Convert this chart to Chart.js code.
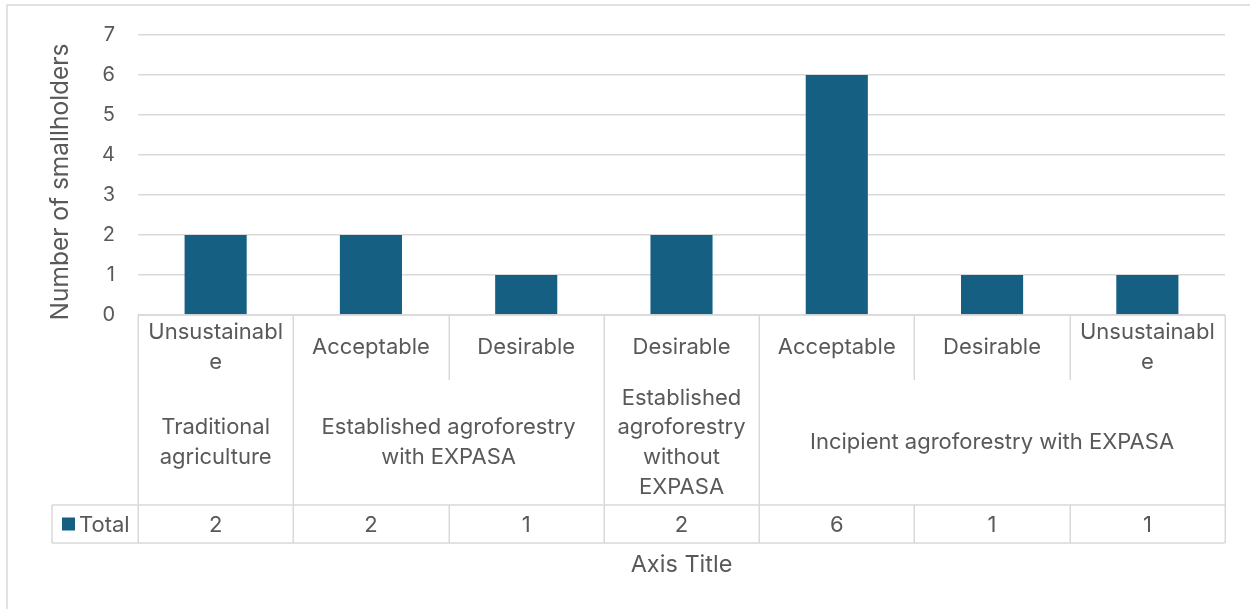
<!DOCTYPE html>
<html>
<head>
<meta charset="utf-8">
<script src="https://cdn.jsdelivr.net/npm/chart.js@4/dist/chart.umd.min.js"></script>
<style>
  html, body { margin: 0; padding: 0; background: #fff; }
  #wrap { width: 1250px; height: 609px; position: relative; }
</style>
</head>
<body>
<div id="wrap"><canvas id="c" width="1250" height="609"></canvas></div>
<script>
// Sustainability rating per column (lines as they wrap inside each cell)
const ratingLines = [
  ["Unsustainabl", "e"],
  ["Acceptable"],
  ["Desirable"],
  ["Desirable"],
  ["Acceptable"],
  ["Desirable"],
  ["Unsustainabl", "e"]
];
// Land-use system groups and how many rating columns each covers
const groupLines = [
  ["Traditional", "agriculture"],
  ["Established agroforestry", "with EXPASA"],
  ["Established", "agroforestry", "without", "EXPASA"],
  ["Incipient agroforestry with EXPASA"]
];
const groupSpans = [1, 2, 1, 3];
const seriesName = "Total";
const totals = [2, 2, 1, 2, 6, 1, 1];
const yMin = 0, yMax = 7, yStep = 1;
const yTitle = "Number of smallholders";
const xTitle = "Axis Title";

const FONT = "Inter";
const TEXT = "#595959";
const LINE = "#d9d9d9";
const BAR = "#156082";

const labels = ratingLines.map((l, i) => l.join("") + " (" + i + ")");

// Multi-level category table, data table row and axis titles around the plot
const tablePlugin = {
  id: "categoryTable",
  afterDraw(chart) {
    const { ctx, chartArea: a, scales: { x } } = chart;
    const n = totals.length;
    const w = (a.right - a.left) / n;
    const edge = i => x.getPixelForValue(0) - w / 2 + i * w;
    const top = a.bottom;
    const r1 = top + 65;       // bottom of rating row
    const r2 = top + 190;      // bottom of group row
    const r3 = top + 228;      // bottom of data-table row
    const legendLeft = 52;
    const lh = 29.6;

    // group boundaries
    const bounds = [0];
    groupSpans.forEach(s => bounds.push(bounds[bounds.length - 1] + s));

    ctx.save();
    // outer chart frame
    ctx.strokeStyle = LINE;
    ctx.lineWidth = 1.5;
    ctx.strokeRect(7, 5, 1400, 800);

    ctx.beginPath();
    for (let i = 0; i <= n; i++) {
      const xx = Math.round(edge(i)) + 0.25;
      if (bounds.includes(i)) {
        ctx.moveTo(xx, top); ctx.lineTo(xx, r3);
      } else {
        ctx.moveTo(xx, top); ctx.lineTo(xx, r1);
        ctx.moveTo(xx, r2); ctx.lineTo(xx, r3);
      }
    }
    ctx.moveTo(legendLeft, r2); ctx.lineTo(edge(n), r2);
    ctx.moveTo(legendLeft, r3); ctx.lineTo(edge(n), r3);
    ctx.moveTo(legendLeft, r2); ctx.lineTo(legendLeft, r3);
    ctx.moveTo(edge(0), top); ctx.lineTo(edge(n), top);
    ctx.stroke();

    ctx.fillStyle = TEXT;
    ctx.textAlign = "center";
    ctx.textBaseline = "middle";
    ctx.font = "22px " + FONT;

    const drawBlock = (lines, cx, cy) => {
      const y0 = cy - (lines.length - 1) * lh / 2;
      lines.forEach((t, k) => ctx.fillText(t, cx, y0 + k * lh));
    };

    ratingLines.forEach((lines, i) => {
      drawBlock(lines, x.getPixelForValue(i), (top + r1) / 2);
    });
    groupLines.forEach((lines, g) => {
      const cx = (edge(bounds[g]) + edge(bounds[g + 1])) / 2;
      drawBlock(lines, cx, (r1 + r2) / 2);
    });
    totals.forEach((v, i) => {
      ctx.fillText(String(v), x.getPixelForValue(i), (r2 + r3) / 2 + 1);
    });

    // legend key in the data table
    ctx.fillStyle = BAR;
    ctx.fillRect(62, (r2 + r3) / 2 - 6.5, 13, 13);
    ctx.fillStyle = TEXT;
    ctx.textAlign = "left";
    ctx.fillText(seriesName, 79, (r2 + r3) / 2 + 1);

    // x-axis title
    ctx.textAlign = "center";
    ctx.font = "23.5px " + FONT;
    ctx.fillText(xTitle, (a.left + a.right) / 2, 565);

    // y-axis title
    ctx.translate(61, 182);
    ctx.rotate(-Math.PI / 2);
    ctx.font = "24.5px " + FONT;
    ctx.fillText(yTitle, 0, 0);
    ctx.restore();
  }
};

new Chart(document.getElementById("c"), {
  type: "bar",
  data: {
    labels: labels,
    datasets: [{
      label: seriesName,
      data: totals,
      backgroundColor: BAR,
      borderWidth: 0,
      barPercentage: 0.4,
      categoryPercentage: 1.0
    }]
  },
  options: {
    responsive: false,
    animation: false,
    devicePixelRatio: 1,
    layout: { padding: { left: 0, right: 25, top: 34, bottom: 294 } },
    plugins: { legend: { display: false }, tooltip: { enabled: false } },
    scales: {
      x: { display: false },
      y: {
        min: yMin, max: yMax,
        ticks: { stepSize: yStep, color: TEXT, font: { family: FONT, size: 20 }, padding: 23 },
        grid: { color: LINE, lineWidth: 1.5, drawTicks: false },
        border: { display: false },
        afterFit(scale) { scale.width = 138; }
      }
    }
  },
  plugins: [tablePlugin]
});
</script>
</body>
</html>
